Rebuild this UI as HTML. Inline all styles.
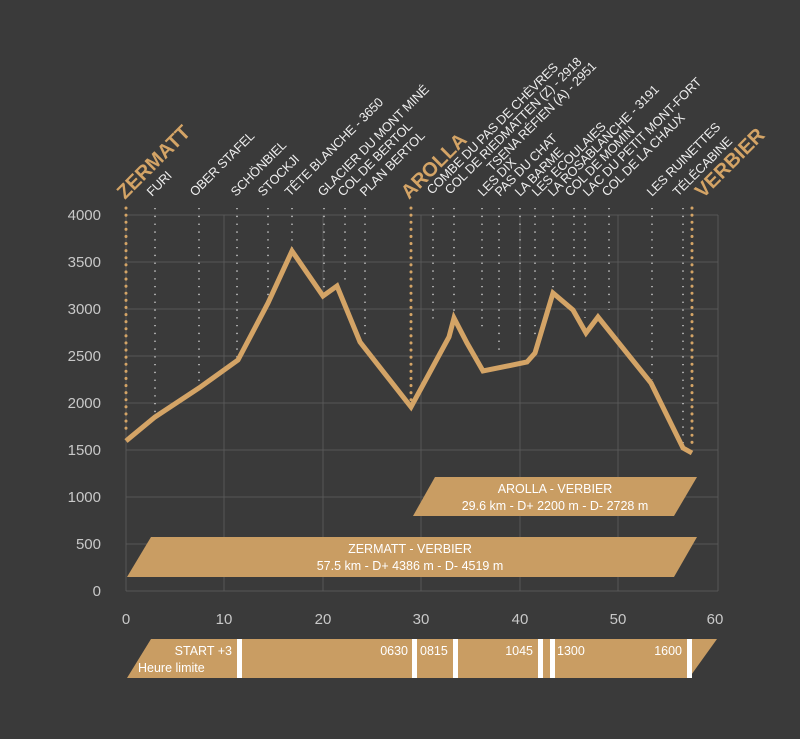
<!DOCTYPE html>
<html><head><meta charset="utf-8"><style>
html,body{margin:0;padding:0;background:#3a3a3a;}
svg{display:block;}
text{font-family:"Liberation Sans",sans-serif;}
</style></head><body>
<svg width="800" height="739" viewBox="0 0 800 739" xmlns="http://www.w3.org/2000/svg">
<rect width="800" height="739" fill="#3a3a3a"/>
<g stroke="#575757" stroke-width="1" fill="none">
<line x1="126" y1="215" x2="718" y2="215"/>
<line x1="126" y1="262" x2="718" y2="262"/>
<line x1="126" y1="309" x2="718" y2="309"/>
<line x1="126" y1="356" x2="718" y2="356"/>
<line x1="126" y1="403" x2="718" y2="403"/>
<line x1="126" y1="450" x2="718" y2="450"/>
<line x1="126" y1="497" x2="718" y2="497"/>
<line x1="126" y1="544" x2="718" y2="544"/>
<line x1="126" y1="591" x2="718" y2="591"/>
<line x1="126" y1="215" x2="126" y2="591"/>
<line x1="224" y1="215" x2="224" y2="591"/>
<line x1="323" y1="215" x2="323" y2="591"/>
<line x1="421" y1="215" x2="421" y2="591"/>
<line x1="520" y1="215" x2="520" y2="591"/>
<line x1="618" y1="215" x2="618" y2="591"/>
<line x1="718" y1="215" x2="718" y2="591"/>
</g>
<g fill="#c8c8c8" font-size="15" text-anchor="end">
<text x="101" y="220">4000</text><text x="101" y="267">3500</text><text x="101" y="314">3000</text>
<text x="101" y="361">2500</text><text x="101" y="408">2000</text><text x="101" y="455">1500</text>
<text x="101" y="502">1000</text><text x="101" y="549">500</text><text x="101" y="596">0</text>
</g>
<g fill="#c8c8c8" font-size="15" text-anchor="middle">
<text x="126" y="624">0</text><text x="224" y="624">10</text><text x="323" y="624">20</text>
<text x="421" y="624">30</text><text x="520" y="624">40</text><text x="618" y="624">50</text><text x="715" y="624">60</text>
</g>
<g stroke="#e0e0e0" stroke-width="1.3" stroke-dasharray="1.3 6.5" fill="none">
<line x1="155" y1="208" x2="155" y2="415"/>
<line x1="199" y1="208" x2="199" y2="385"/>
<line x1="237" y1="208" x2="237" y2="358"/>
<line x1="268" y1="208" x2="268" y2="303"/>
<line x1="292" y1="208" x2="292" y2="249"/>
<line x1="324" y1="208" x2="324" y2="293"/>
<line x1="345" y1="208" x2="345" y2="282"/>
<line x1="365" y1="208" x2="365" y2="338"/>
<line x1="433" y1="208" x2="433" y2="325"/>
<line x1="454" y1="208" x2="454" y2="316"/>
<line x1="482" y1="208" x2="482" y2="330"/>
<line x1="499" y1="208" x2="499" y2="355"/>
<line x1="520" y1="208" x2="520" y2="340"/>
<line x1="535" y1="208" x2="535" y2="335"/>
<line x1="553" y1="208" x2="553" y2="291"/>
<line x1="574" y1="208" x2="574" y2="300"/>
<line x1="585" y1="208" x2="585" y2="318"/>
<line x1="609" y1="208" x2="609" y2="310"/>
<line x1="652" y1="208" x2="652" y2="380"/>
<line x1="683" y1="208" x2="683" y2="445"/>
</g>
<g stroke="#d4a466" stroke-width="3" stroke-linecap="round" stroke-dasharray="0.1 7" fill="none">
<line x1="126" y1="208" x2="126" y2="435"/>
<line x1="411" y1="208" x2="411" y2="400"/>
<line x1="692" y1="208" x2="692" y2="448"/>
</g>
<polyline fill="none" stroke="#d4a466" stroke-width="5" stroke-linejoin="miter" points="126,441 155,417 199,388 238,360 268,303 292,251 323,296 337,286 360,342 411,407 449,337 454,318 467,343 483,371 527,362 535,353 553,293 573,310 586,333 598,317 651,383 683,448 692,453"/>
<polygon points="413,516 435,477 697,477 674,516" fill="#c99d63"/>
<text x="555" y="493" fill="#fff" font-size="12.5" text-anchor="middle">AROLLA - VERBIER</text>
<text x="555" y="510" fill="#fff" font-size="12.5" text-anchor="middle">29.6 km - D+ 2200 m - D-  2728 m</text>
<polygon points="127,577 151,537 697,537 674,577" fill="#c99d63"/>
<text x="410" y="553" fill="#fff" font-size="12.5" text-anchor="middle">ZERMATT - VERBIER</text>
<text x="410" y="570" fill="#fff" font-size="12.5" text-anchor="middle">57.5 km - D+ 4386 m - D-  4519 m</text>
<polygon points="127,678 151,639 717,639 689,678" fill="#c99d63"/>
<g fill="#fff">
<rect x="237" y="639" width="5" height="39"/><rect x="412" y="639" width="5" height="39"/>
<rect x="453" y="639" width="5" height="39"/><rect x="538" y="639" width="5" height="39"/>
<rect x="550" y="639" width="5" height="39"/><rect x="687" y="639" width="5" height="39"/>
</g>
<g fill="#fff" font-size="12.5">
<text x="232" y="655" text-anchor="end">START +3</text>
<text x="138" y="672">Heure limite</text>
<text x="408" y="655" text-anchor="end">0630</text>
<text x="420" y="655">0815</text>
<text x="533" y="655" text-anchor="end">1045</text>
<text x="557" y="655">1300</text>
<text x="682" y="655" text-anchor="end">1600</text>
</g>
<g fill="#eeeeee" font-size="12.8" letter-spacing="-0.2">
<text transform="translate(152,197) rotate(-45)">FURI</text>
<text transform="translate(195,197) rotate(-45)">OBER STAFEL</text>
<text transform="translate(236,197) rotate(-45)">SCHÖNBIEL</text>
<text transform="translate(263,197) rotate(-45)">STOCKJI</text>
<text transform="translate(290,197) rotate(-45)">TÊTE BLANCHE - 3650</text>
<text transform="translate(323,197) rotate(-45)">GLACIER DU MONT MINÉ</text>
<text transform="translate(343,197) rotate(-45)">COL DE BERTOL</text>
<text transform="translate(365,197) rotate(-45)">PLAN BERTOL</text>
<text transform="translate(432,195) rotate(-45)">COMBE DU PAS DE CHÈVRES</text>
<text transform="translate(450,195) rotate(-45)">COL DE RIEDMATTEN (Z) - 2918</text>
<text transform="translate(492,172) rotate(-45)">TSENA RÉFIEN (A) - 2951</text>
<text transform="translate(483,197) rotate(-45)">LES DIX</text>
<text transform="translate(500,197) rotate(-45)">PAS DU CHAT</text>
<text transform="translate(520,197) rotate(-45)">LA BARME</text>
<text transform="translate(537,197) rotate(-45)">LES ECOULAIES</text>
<text transform="translate(553,197) rotate(-45)">LA ROSABLANCHE - 3191</text>
<text transform="translate(570,197) rotate(-45)">COL DE MOMIN</text>
<text transform="translate(588,197) rotate(-45)">LAC DU PETIT MONT-FORT</text>
<text transform="translate(607,197) rotate(-45)">COL DE LA CHAUX</text>
<text transform="translate(652,197) rotate(-45)">LES RUINETTES</text>
<text transform="translate(678,197) rotate(-45)">TÉLÉCABINE</text>
</g>
<g fill="#d4a466" font-size="20" font-weight="bold">
<text transform="translate(125,200) rotate(-45)">ZERMATT</text>
<text transform="translate(409,200) rotate(-45)">AROLLA</text>
<text transform="translate(703,199) rotate(-45)">VERBIER</text>
</g>
</svg>
</body></html>
